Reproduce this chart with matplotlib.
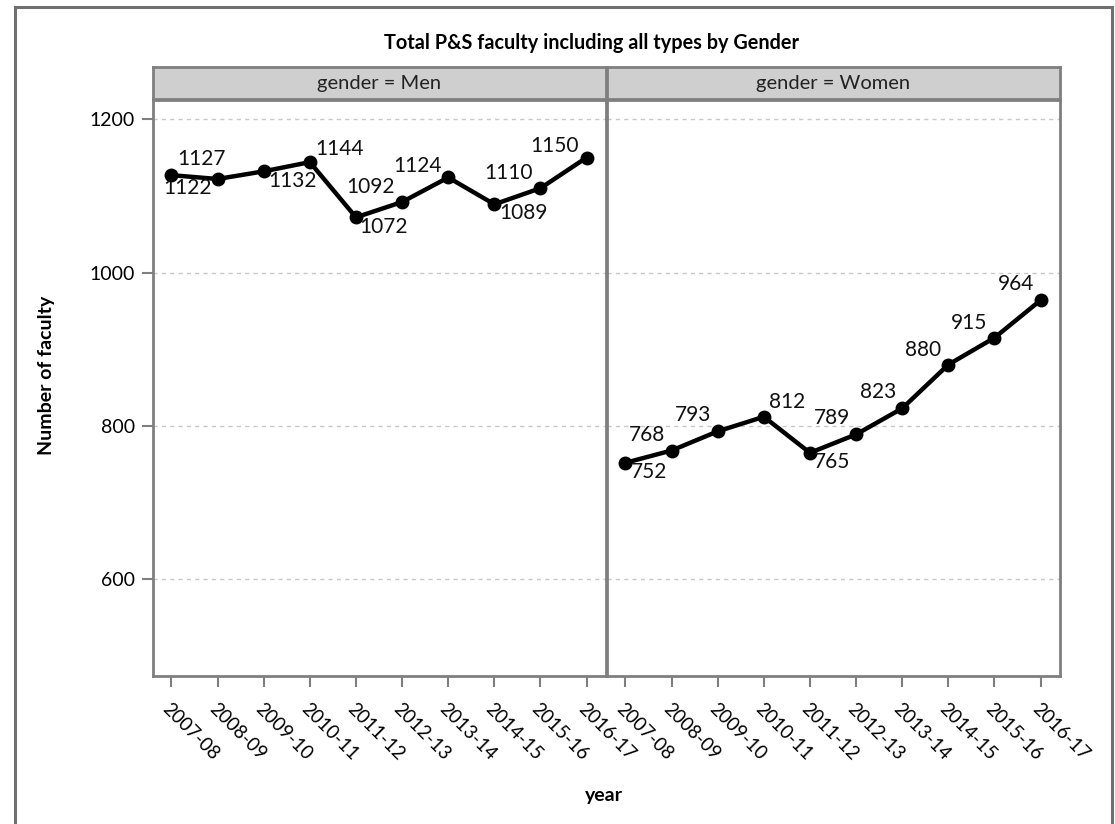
import matplotlib
matplotlib.use('Agg')
import matplotlib.pyplot as plt
from matplotlib.patches import Rectangle

plt.rcParams['font.family'] = ['Lato', 'DejaVu Sans']

years = ['2007-08', '2008-09', '2009-10', '2010-11', '2011-12',
         '2012-13', '2013-14', '2014-15', '2015-16', '2016-17']
men = [1127, 1122, 1132, 1144, 1072, 1092, 1124, 1089, 1110, 1150]
women = [752, 768, 793, 812, 765, 789, 823, 880, 915, 964]
yticks = [600, 800, 1000, 1200]

# label offsets in pixels (dx, dy) to mimic SAS label placement
men_off = [(30, 16), (-30, -9), (29, -10), (30, 13), (28, -10),
           (-32, 15), (-31, 11), (29, -9), (-32, 15), (-32, 12)]
women_off = [(24, -9), (-25, 16), (-25, 16), (23, 15), (22, -9),
             (-24, 16), (-24, 16), (-25, 15), (-25, 15), (-25, 16)]

W, H = 1115, 824
fig = plt.figure(figsize=(W / 100, H / 100), dpi=100)

frame_col = '#7f7f7f'
x0s = [153, 607]
pw = 453
top, bot = 100, 676
panels = [('gender = Men', men, men_off), ('gender = Women', women, women_off)]

for i, (lab, vals, offs) in enumerate(panels):
    ax = fig.add_axes([x0s[i] / W, 1 - bot / H, pw / W, (bot - top) / H])
    xs = list(range(len(years)))
    ax.plot(xs, vals, '-o', color='black', lw=3.2, ms=9, zorder=3)
    for x, v, (dx, dy) in zip(xs, vals, offs):
        ax.annotate(str(v), (x, v), xytext=(dx, dy), textcoords='offset pixels',
                    ha='center', va='center', fontsize=15, color='#111111')
    ax.set_xlim(-0.4, 9.42)
    ax.set_ylim(474, 1225)
    ax.set_yticks(yticks)
    for yv in yticks:
        ax.axhline(yv, color='#c8c8c8', lw=1, ls=(0, (3, 3)), zorder=1)
    ax.set_xticks(xs)
    ax.set_xticklabels(years, rotation=-45, ha='left', va='top',
                       rotation_mode='anchor', fontsize=13.5)
    for s in ax.spines.values():
        s.set_color(frame_col)
        s.set_linewidth(2)
    ax.tick_params(axis='x', length=8, width=1.5, color=frame_col, pad=9)
    if i == 0:
        ax.tick_params(axis='y', length=8, width=1.5, color=frame_col,
                       pad=5, labelsize=14)
    else:
        ax.tick_params(axis='y', left=False, labelleft=False)

    sax = fig.add_axes([x0s[i] / W, 1 - 99 / H, pw / W, 32 / H])
    sax.set_facecolor('#cfcfcf')
    sax.set_xticks([])
    sax.set_yticks([])
    for s in sax.spines.values():
        s.set_color(frame_col)
        s.set_linewidth(2)
    sax.text(0.5, 0.5, lab, ha='center', va='center', fontsize=14.5,
             color='#222222', transform=sax.transAxes)

fig.text(592 / W, 1 - 43 / H, 'Total P&S faculty including all types by Gender',
         ha='center', va='center', fontsize=14.3, fontweight='bold')
fig.text(47 / W, 1 - 375 / H, 'Number of faculty', rotation=90,
         ha='center', va='center', fontsize=14, fontweight='bold')
fig.text(604 / W, 1 - 795 / H, 'year', ha='center', va='center',
         fontsize=14, fontweight='bold')

fig.patches.append(Rectangle((15 / W, -0.05), (1112 - 15) / W, 1.05 - 7 / H,
                             transform=fig.transFigure, fill=False,
                             edgecolor='#707070', lw=2.2))

plt.savefig('out.png', dpi=100)
